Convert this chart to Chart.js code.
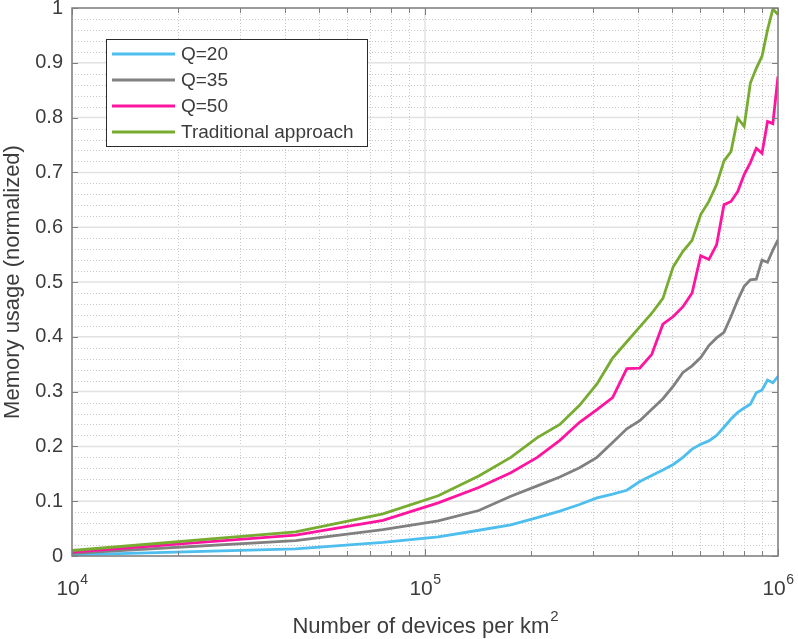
<!DOCTYPE html>
<html>
<head>
<meta charset="utf-8">
<script src="https://cdn.jsdelivr.net/npm/chart.js@4.4.1/dist/chart.umd.min.js"></script>
<style>
  html, body { margin: 0; padding: 0; background: #fff; }
</style>
</head>
<body>
<canvas id="chart" width="798" height="639"></canvas>
<script>
// Número de dispositivos por km² (eixo x, log)
const devices = [
  10000, 43000, 76000, 109000, 142000, 175000, 208000, 241000, 274000, 307000,
  340000, 373000, 406000, 439000, 472000, 505000, 538000, 571000, 604000, 637000,
  670000, 703000, 736000, 769000, 802000, 835000, 868000, 901000, 934000, 967000,
  1000000,
];

// Uso de memória (normalizado)
const q20 = [
  0.002, 0.013, 0.025, 0.035, 0.047, 0.057, 0.070, 0.082, 0.094, 0.106,
  0.113, 0.120, 0.136, 0.147, 0.157, 0.167, 0.180, 0.195, 0.204, 0.210,
  0.220, 0.235, 0.250, 0.262, 0.270, 0.277, 0.298, 0.303, 0.321, 0.316,
  0.328,
];
const q35 = [
  0.005, 0.028, 0.048, 0.064, 0.083, 0.109, 0.128, 0.144, 0.161, 0.180,
  0.207, 0.232, 0.247, 0.268, 0.287, 0.310, 0.335, 0.347, 0.362, 0.384,
  0.398, 0.408, 0.437, 0.467, 0.492, 0.504, 0.505, 0.540, 0.536, 0.558,
  0.577,
];
const q50 = [
  0.007, 0.038, 0.065, 0.097, 0.125, 0.152, 0.180, 0.211, 0.244, 0.267,
  0.289, 0.342, 0.343, 0.368, 0.423, 0.437, 0.455, 0.480, 0.548, 0.541,
  0.568, 0.641, 0.647, 0.665, 0.696, 0.718, 0.744, 0.735, 0.793, 0.789,
  0.875,
];
const traditional = [
  0.010, 0.044, 0.077, 0.110, 0.146, 0.180, 0.216, 0.240, 0.275, 0.314,
  0.361, 0.391, 0.418, 0.443, 0.470, 0.528, 0.556, 0.576, 0.623, 0.647,
  0.678, 0.721, 0.738, 0.799, 0.784, 0.863, 0.890, 0.912, 0.960, 0.998,
  0.988,
];

const seriesLabels = ["Q=20", "Q=35", "Q=50", "Traditional approach"];
const seriesColors = ["#4DBEEE", "#808080", "#FF14A0", "#77AC30"];

// Ticks
const xMajorTicks = [1e4, 1e5, 1e6];
const xMajorExp = ["4", "5", "6"];
const xMinorTicks = [
  2e4, 3e4, 4e4, 5e4, 6e4, 7e4, 8e4, 9e4,
  2e5, 3e5, 4e5, 5e5, 6e5, 7e5, 8e5, 9e5,
];
const yMajorTicks = [0, 0.1, 0.2, 0.3, 0.4, 0.5, 0.6, 0.7, 0.8, 0.9, 1];

const FONT = "'Liberation Sans', Arial, Helvetica, sans-serif";
const TEXT = "#3c3c3c";

Chart.defaults.font.family = FONT;
Chart.defaults.font.size = 20;
Chart.defaults.color = TEXT;

function linha(ctx, x1, y1, x2, y2) {
  ctx.beginPath();
  ctx.moveTo(x1, y1);
  ctx.lineTo(x2, y2);
  ctx.stroke();
}

/**
 * Grade estilo MATLAB, caixa dos eixos, rótulos do eixo x e legenda
 */
const estiloMatlab = {
  id: "estiloMatlab",
  beforeDatasetsDraw(chart) {
    const { ctx, chartArea: a, scales: { x, y } } = chart;
    ctx.save();
    ctx.lineWidth = 1;

    // grade menor pontilhada
    ctx.strokeStyle = "#c8c8c8";
    ctx.setLineDash([1, 2]);
    xMinorTicks.forEach((v) => {
      const px = Math.round(x.getPixelForValue(v)) + 0.5;
      linha(ctx, px, a.top, px, a.bottom);
    });
    for (let k = 1; k < 50; k++) {
      if (k % 5 === 0) continue;
      const py = Math.round(y.getPixelForValue(k * 0.02)) + 0.5;
      linha(ctx, a.left, py, a.right, py);
    }

    // grade maior contínua
    ctx.setLineDash([]);
    ctx.strokeStyle = "#e2e2e2";
    ctx.lineWidth = 1.5;
    xMajorTicks.forEach((v) => {
      const px = x.getPixelForValue(v);
      linha(ctx, px, a.top, px, a.bottom);
    });
    yMajorTicks.forEach((v) => {
      const py = y.getPixelForValue(v);
      linha(ctx, a.left, py, a.right, py);
    });
    ctx.restore();
  },

  afterDatasetsDraw(chart) {
    const { ctx, chartArea: a, scales: { x, y } } = chart;
    ctx.save();

    // caixa
    ctx.strokeStyle = "#808080";
    ctx.lineWidth = 1.5;
    ctx.strokeRect(a.left, a.top, a.right - a.left, a.bottom - a.top);

    // marcas internas
    ctx.lineWidth = 1;
    xMinorTicks.concat(xMajorTicks).forEach((v) => {
      const px = Math.round(x.getPixelForValue(v)) + 0.5;
      const len = xMajorTicks.includes(v) ? 7 : 5;
      linha(ctx, px, a.bottom, px, a.bottom - len);
      linha(ctx, px, a.top, px, a.top + len);
    });
    yMajorTicks.forEach((v) => {
      const py = Math.round(y.getPixelForValue(v)) + 0.5;
      linha(ctx, a.left, py, a.left + 6, py);
      linha(ctx, a.right, py, a.right - 6, py);
    });

    // rótulos 10^n
    ctx.fillStyle = TEXT;
    ctx.textBaseline = "alphabetic";
    ctx.textAlign = "left";
    xMajorTicks.forEach((v, i) => {
      const px = x.getPixelForValue(v);
      ctx.font = `21px ${FONT}`;
      const wBase = ctx.measureText("10").width;
      ctx.font = `14px ${FONT}`;
      const wExp = ctx.measureText(xMajorExp[i]).width;
      const x0 = px - (wBase + wExp) / 2;
      ctx.font = `21px ${FONT}`;
      ctx.fillText("10", x0, 595);
      ctx.font = `14px ${FONT}`;
      ctx.fillText(xMajorExp[i], x0 + wBase + 0.5, 584);
    });

    // título do eixo x com km²
    const titulo = "Number of devices per km";
    ctx.font = `22px ${FONT}`;
    const wT = ctx.measureText(titulo).width;
    ctx.font = `15px ${FONT}`;
    const wS = ctx.measureText("2").width;
    const tx = (a.left + a.right) / 2 - (wT + wS) / 2;
    ctx.font = `22px ${FONT}`;
    ctx.fillText(titulo, tx, 633);
    ctx.font = `15px ${FONT}`;
    ctx.fillText("2", tx + wT + 1, 621);

    // legenda
    const lx = 106, ly = 39, lw = 261, lh = 107;
    ctx.fillStyle = "#ffffff";
    ctx.fillRect(lx, ly, lw, lh);
    ctx.strokeStyle = "#2b2b2b";
    ctx.lineWidth = 1;
    ctx.strokeRect(lx + 0.5, ly + 0.5, lw, lh);
    ctx.font = `19px ${FONT}`;
    ctx.textBaseline = "middle";
    chart.data.datasets.forEach((ds, i) => {
      const ry = 54 + i * 26;
      ctx.strokeStyle = ds.borderColor;
      ctx.lineWidth = 3;
      linha(ctx, 112, ry, 175, ry);
      ctx.fillStyle = TEXT;
      ctx.fillText(ds.label, 181, ry + 1);
    });

    ctx.restore();
  },
};

const series = [q20, q35, q50, traditional];

new Chart(document.querySelector("#chart"), {
  type: "line",
  data: {
    labels: devices,
    datasets: series.map((vals, i) => ({
      label: seriesLabels[i],
      data: devices.map((d, j) => ({ x: d, y: vals[j] })),
      borderColor: seriesColors[i],
      backgroundColor: seriesColors[i],
      borderWidth: 2.8,
      pointRadius: 0,
      tension: 0,
      fill: false,
      order: 4 - i,
    })),
  },
  options: {
    responsive: false,
    animation: false,
    layout: { padding: { top: 8, right: 20, bottom: 0, left: 0 } },
    plugins: {
      legend: { display: false },
      tooltip: { enabled: false },
    },
    scales: {
      x: {
        type: "logarithmic",
        min: 1e4,
        max: 1e6,
        grid: { display: false, drawTicks: false },
        border: { display: false },
        ticks: { display: false },
        afterFit(scale) {
          scale.height = 83;
          scale.paddingLeft = 0;
          scale.paddingRight = 0;
        },
      },
      y: {
        min: 0,
        max: 1,
        grid: { display: false, drawTicks: false },
        border: { display: false },
        ticks: {
          stepSize: 0.1,
          padding: 9,
          font: { size: 20 },
          callback: (v) => String(Math.round(v * 10) / 10),
        },
        title: {
          display: true,
          text: "Memory usage (normalized)",
          font: { size: 22 },
          padding: 0,
        },
        afterFit(scale) {
          scale.width = 72;
          scale.paddingTop = 0;
          scale.paddingBottom = 0;
        },
      },
    },
  },
  plugins: [estiloMatlab],
});
</script>
</body>
</html>
